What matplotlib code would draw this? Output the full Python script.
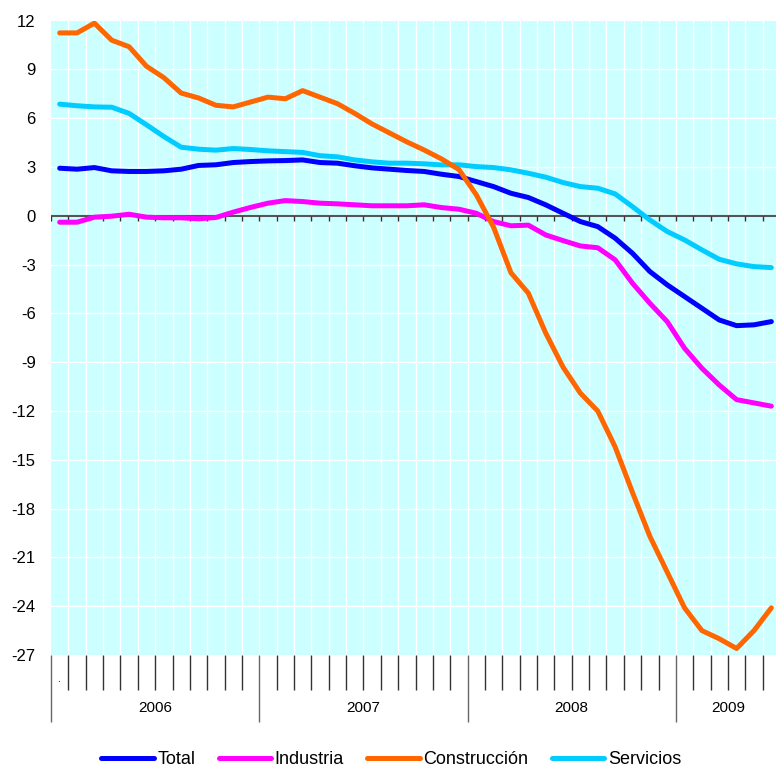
import numpy as np
import matplotlib
matplotlib.use("Agg")
from matplotlib import pyplot as plt

plt.rcParams['font.family'] = ['Liberation Sans', 'DejaVu Sans']

# monthly values, Jan 2006 .. Jun 2009
total = [2.93, 2.87, 2.97, 2.77, 2.73, 2.73, 2.77, 2.87, 3.10, 3.14, 3.28, 3.34,
         3.38, 3.40, 3.44, 3.28, 3.24, 3.08, 2.95, 2.87, 2.79, 2.73, 2.56, 2.42,
         2.11, 1.80, 1.39, 1.13, 0.68, 0.16, -0.35, -0.66, -1.37, -2.30, -3.42, -4.24,
         -4.96, -5.68, -6.40, -6.75, -6.70, -6.50]
industria = [-0.39, -0.39, -0.08, -0.02, 0.10, -0.08, -0.12, -0.12, -0.18, -0.10, 0.23, 0.52,
             0.78, 0.94, 0.88, 0.78, 0.74, 0.68, 0.62, 0.62, 0.62, 0.68, 0.51, 0.41,
             0.16, -0.35, -0.61, -0.57, -1.17, -1.52, -1.85, -1.96, -2.70, -4.14, -5.37, -6.50,
             -8.14, -9.37, -10.40, -11.30, -11.50, -11.70]
construccion = [11.25, 11.25, 11.85, 10.8, 10.4, 9.2, 8.5, 7.55, 7.25, 6.8, 6.7, 7.0,
                7.3, 7.2, 7.7, 7.3, 6.9, 6.3, 5.65, 5.1, 4.55, 4.05, 3.5, 2.85,
                1.3, -0.7, -3.5, -4.75, -7.2, -9.3, -10.9, -12.0, -14.2, -17.0, -19.7, -21.9,
                -24.1, -25.5, -26.0, -26.6, -25.5, -24.1]
servicios = [6.87, 6.77, 6.70, 6.68, 6.30, 5.60, 4.88, 4.22, 4.10, 4.04, 4.14, 4.08,
             4.00, 3.95, 3.90, 3.70, 3.63, 3.44, 3.32, 3.24, 3.24, 3.20, 3.13, 3.14,
             3.03, 2.97, 2.83, 2.62, 2.38, 2.05, 1.80, 1.70, 1.35, 0.57, -0.25, -0.96,
             -1.48, -2.09, -2.67, -2.95, -3.12, -3.18]
years = ['2006', '2007', '2008', '2009']
year_starts = [0, 12, 24, 36]
year_lengths = [12, 12, 12, 6]

x = np.arange(len(total)) + 0.5

fig = plt.figure(figsize=(7.76, 7.73), dpi=100)
ax = fig.add_axes([51/776, 118/773, 729/776, 634.3/773])
ax.set_facecolor('#CCFFFF')
for s in ax.spines.values():
    s.set_visible(False)

ax.set_xlim(0, 42)
ax.set_ylim(-27, 12)
ax.set_yticks(np.arange(-27, 13, 3))
ax.set_yticklabels([str(v) for v in range(-27, 13, 3)], fontsize=12)
ax.tick_params(axis='y', length=0, pad=11)

# white grid
for v in range(-24, 12, 3):
    ax.axhline(v, color='white', lw=1, zorder=1)
for m in range(1, 42):
    ax.axvline(m, color='white', lw=1, zorder=1)

# zero line with monthly ticks
ax.axhline(0, color='#555555', lw=1.5, zorder=2)
ax.vlines(np.arange(0, 43), -0.33, 0, color='#333333', lw=1, zorder=2)

# x axis: month ticks + year separators
ax.set_xticks(year_starts + [42])
ax.set_xticklabels([])
ax.set_xticks(np.arange(0, 43), minor=True)
ax.tick_params(axis='x', which='major', length=48, width=1, color='#666666')
ax.tick_params(axis='x', which='minor', length=25, width=1, color='#333333')
trans = ax.get_xaxis_transform()
for y, st, ln in zip(years, year_starts, year_lengths):
    ax.text(st + ln / 2, -0.084, y, transform=trans, ha='center', va='center', fontsize=11)
ax.text(0.5, -0.038, '.', transform=trans, ha='center', va='center', fontsize=8)

kw = dict(lw=3.6, solid_capstyle='round', solid_joinstyle='round')
ax.plot(x, total, color='#0000FF', label='Total', zorder=4, **kw)
ax.plot(x, industria, color='#FF00FF', label='Industria', zorder=4, **kw)
ax.plot(x, construccion, color='#FF6600', label='Construcción', zorder=5, **kw)
ax.plot(x, servicios, color='#00CCFF', label='Servicios', zorder=3, **kw)

fig.legend(loc='center', bbox_to_anchor=(0.504, 0.017), ncol=4, frameon=False,
           fontsize=13, handlelength=2.9, handletextpad=0.2, columnspacing=1.3,
           borderpad=0, borderaxespad=0)

fig.savefig('out.png', dpi=100)
